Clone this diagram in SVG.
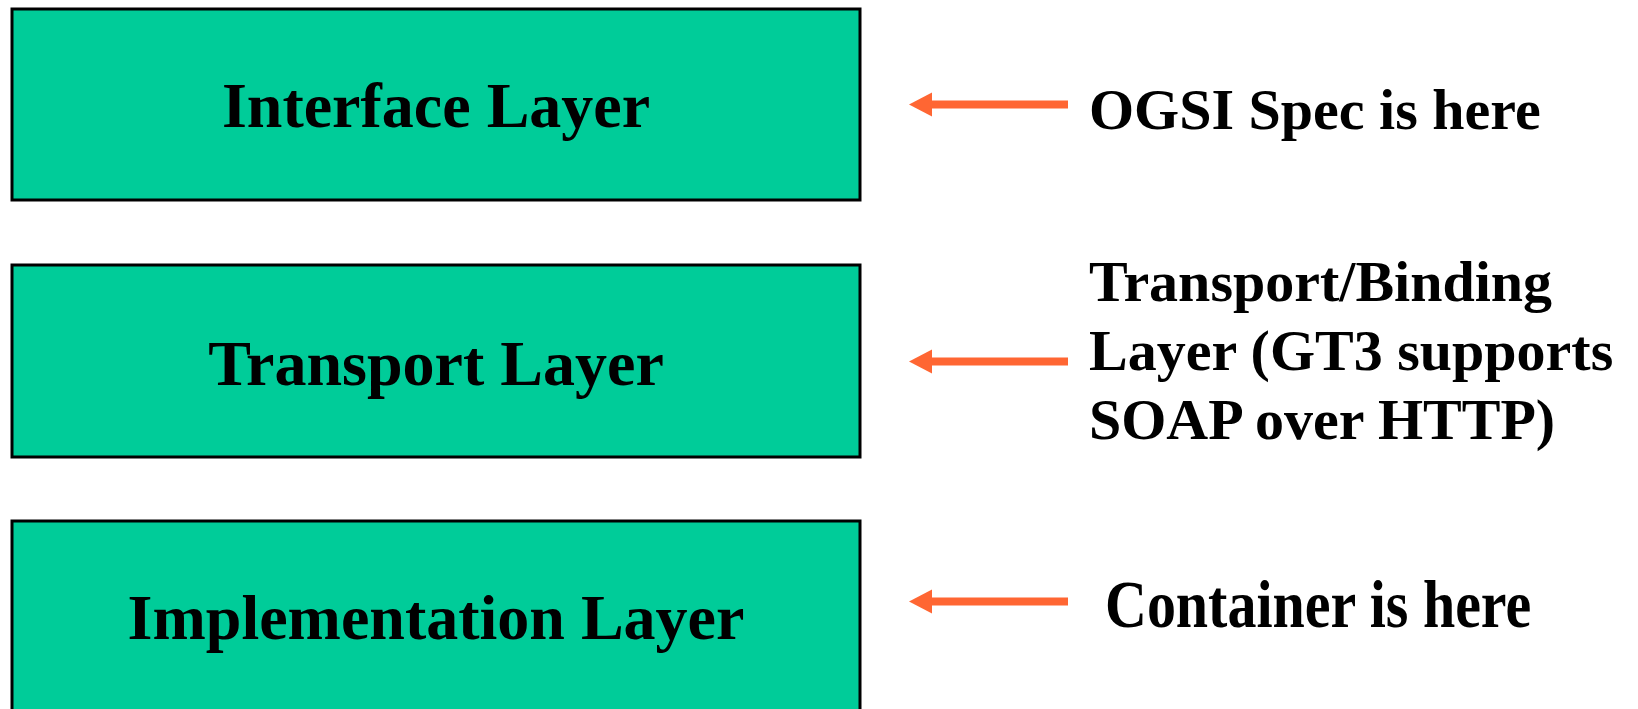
<svg xmlns="http://www.w3.org/2000/svg" width="1638" height="709" viewBox="0 0 1638 709">
<style>
.box{fill:#00CC99;stroke:#000;stroke-width:3}
.lbl{font-family:"Liberation Serif",serif;font-weight:bold;font-size:64px;fill:#000;text-anchor:middle}
.note{font-family:"Liberation Serif",serif;font-weight:bold;font-size:58px;fill:#000}
.shaft{stroke:#FF6633;stroke-width:8;fill:none}
.head{fill:#FF6633}
</style>
<rect width="1638" height="709" fill="#fff"/>
<g id="interface-layer">
<rect class="box" x="12" y="9" width="848" height="191"/>
<text class="lbl" x="436" y="127">Interface Layer</text>
</g>
<g id="transport-layer">
<rect class="box" x="12" y="265" width="848" height="192"/>
<text class="lbl" x="436" y="385">Transport Layer</text>
</g>
<g id="implementation-layer">
<rect class="box" x="12" y="521" width="848" height="200"/>
<text class="lbl" x="436" y="639">Implementation Layer</text>
</g>
<g id="note-ogsi">
<text class="note" x="1089" y="129">OGSI Spec is here</text>
</g>
<g id="note-transport">
<text class="note" x="1089" y="301">Transport/Binding</text>
<text class="note" x="1089" y="370">Layer (GT3 supports</text>
<text class="note" x="1089" y="439">SOAP over HTTP)</text>
</g>
<g id="note-container">
<text class="note" transform="translate(1105,627) scale(1,1.17)" x="0" y="0">Container is here</text>
</g>
<g id="connectors">
<line class="shaft" x1="1068" y1="104.5" x2="928" y2="104.5"/>
<polygon class="head" points="909,104.5 932,92.5 932,116.5"/>
<line class="shaft" x1="1068" y1="361.5" x2="928" y2="361.5"/>
<polygon class="head" points="909,361.5 932,349.5 932,373.5"/>
<line class="shaft" x1="1068" y1="601.5" x2="928" y2="601.5"/>
<polygon class="head" points="909,601.5 932,589.5 932,613.5"/>
</g>
</svg>
